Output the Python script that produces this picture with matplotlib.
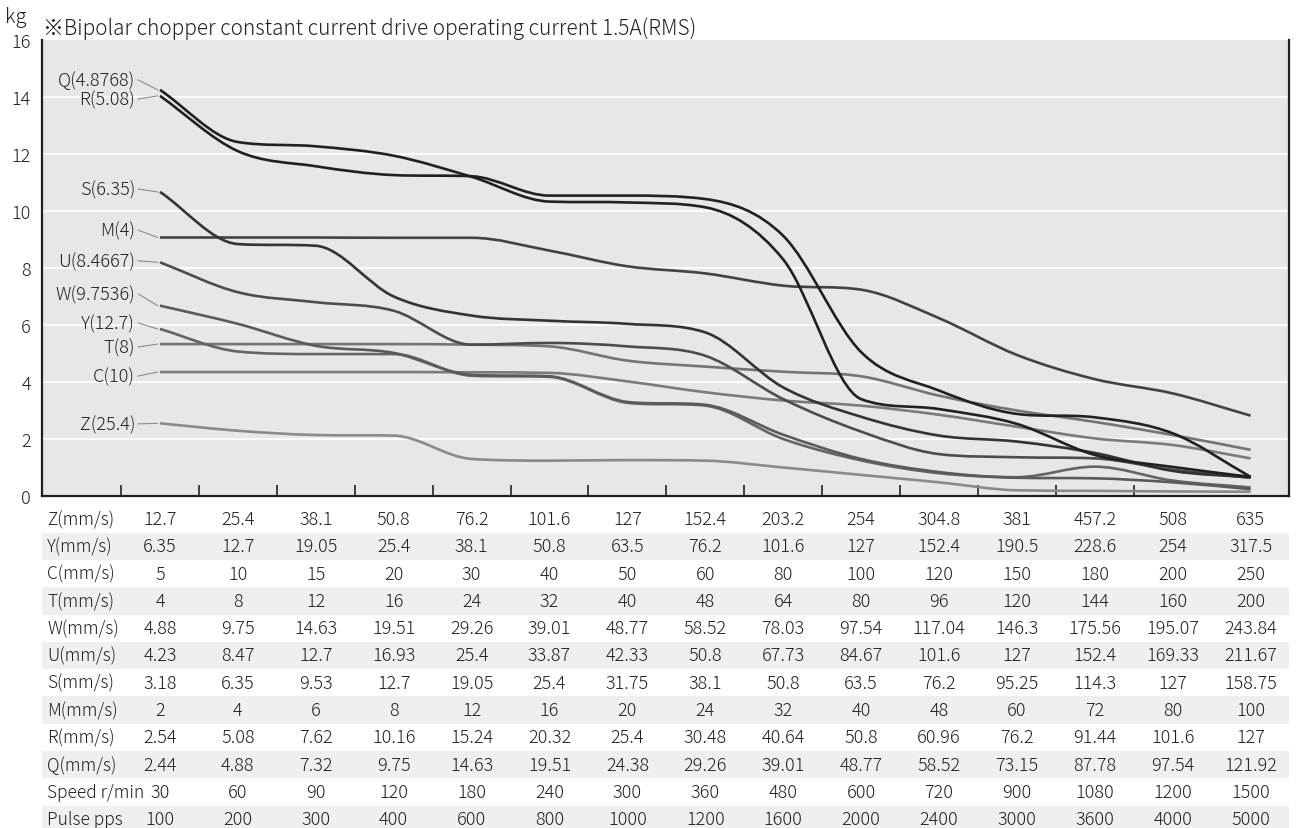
#!/usr/bin/env python3
"""Load vs speed curves for the lead-screw variants, with the speed table underneath."""
import numpy as np
import matplotlib; matplotlib.use("Agg")
import matplotlib.pyplot as plt
from matplotlib.path import Path
from matplotlib.patches import PathPatch

plt.rcParams["font.family"] = ["Noto Sans CJK JP", "DejaVu Sans"]
plt.rcParams["font.weight"] = "light"

# ---- table rows (speed per lead) ----
row_names = ["Z(mm/s)", "Y(mm/s)", "C(mm/s)", "T(mm/s)", "W(mm/s)", "U(mm/s)", "S(mm/s)",
             "M(mm/s)", "R(mm/s)", "Q(mm/s)", "Speed r/min", "Pulse pps"]
speed_Z = ["12.7", "25.4", "38.1", "50.8", "76.2", "101.6", "127", "152.4", "203.2", "254", "304.8", "381", "457.2", "508", "635"]
speed_Y = ["6.35", "12.7", "19.05", "25.4", "38.1", "50.8", "63.5", "76.2", "101.6", "127", "152.4", "190.5", "228.6", "254", "317.5"]
speed_C = ["5", "10", "15", "20", "30", "40", "50", "60", "80", "100", "120", "150", "180", "200", "250"]
speed_T = ["4", "8", "12", "16", "24", "32", "40", "48", "64", "80", "96", "120", "144", "160", "200"]
speed_W = ["4.88", "9.75", "14.63", "19.51", "29.26", "39.01", "48.77", "58.52", "78.03", "97.54", "117.04", "146.3", "175.56", "195.07", "243.84"]
speed_U = ["4.23", "8.47", "12.7", "16.93", "25.4", "33.87", "42.33", "50.8", "67.73", "84.67", "101.6", "127", "152.4", "169.33", "211.67"]
speed_S = ["3.18", "6.35", "9.53", "12.7", "19.05", "25.4", "31.75", "38.1", "50.8", "63.5", "76.2", "95.25", "114.3", "127", "158.75"]
speed_M = ["2", "4", "6", "8", "12", "16", "20", "24", "32", "40", "48", "60", "72", "80", "100"]
speed_R = ["2.54", "5.08", "7.62", "10.16", "15.24", "20.32", "25.4", "30.48", "40.64", "50.8", "60.96", "76.2", "91.44", "101.6", "127"]
speed_Q = ["2.44", "4.88", "7.32", "9.75", "14.63", "19.51", "24.38", "29.26", "39.01", "48.77", "58.52", "73.15", "87.78", "97.54", "121.92"]
speed_rpm = ["30", "60", "90", "120", "180", "240", "300", "360", "480", "600", "720", "900", "1080", "1200", "1500"]
pulse_pps = ["100", "200", "300", "400", "600", "800", "1000", "1200", "1600", "2000", "2400", "3000", "3600", "4000", "5000"]

# ---- load (kg) at each column ----
load_Q = [14.25, 12.42, 12.27, 11.94, 11.20, 10.33, 10.30, 10.13, 8.30, 3.40, 3.05, 2.53, 1.44, 1.02, 0.67]
load_R = [14.04, 12.10, 11.57, 11.26, 11.22, 10.54, 10.54, 10.42, 9.13, 5.05, 3.70, 2.88, 2.76, 2.20, 0.67]
load_S = [10.67, 8.84, 8.78, 7.00, 6.33, 6.15, 6.04, 5.74, 3.81, 2.78, 2.12, 1.91, 1.51, 0.88, 0.65]
load_M = [9.07, 9.07, 9.07, 9.06, 9.06, 8.61, 8.06, 7.81, 7.38, 7.24, 6.24, 4.95, 4.10, 3.60, 2.82]
load_U = [8.20, 7.15, 6.80, 6.50, 5.31, 5.37, 5.25, 4.92, 3.40, 2.26, 1.47, 1.36, 1.32, 0.92, 0.64]
load_W = [6.68, 6.04, 5.27, 5.02, 4.25, 4.20, 3.30, 3.20, 2.15, 1.30, 0.84, 0.64, 0.62, 0.48, 0.24]
load_Y = [5.86, 5.07, 4.98, 4.98, 4.22, 4.18, 3.27, 3.17, 2.00, 1.25, 0.80, 0.66, 1.03, 0.54, 0.30]
load_T = [5.33, 5.33, 5.33, 5.33, 5.31, 5.25, 4.75, 4.54, 4.36, 4.20, 3.52, 3.00, 2.60, 2.14, 1.62]
load_C = [4.35, 4.35, 4.35, 4.35, 4.34, 4.32, 4.02, 3.64, 3.35, 3.17, 2.85, 2.43, 2.02, 1.79, 1.32]
load_Z = [2.55, 2.29, 2.14, 2.12, 1.30, 1.24, 1.26, 1.24, 1.00, 0.74, 0.48, 0.20, 0.18, 0.16, 0.15]

series_labels = ["Z(25.4)", "C(10)", "T(8)", "Y(12.7)", "W(9.7536)", "U(8.4667)", "M(4)", "S(6.35)", "R(5.08)", "Q(4.8768)"]
series_loads = [load_Z, load_C, load_T, load_Y, load_W, load_U, load_M, load_S, load_R, load_Q]
label_y = [2.53, 4.21, 5.23, 6.07, 7.09, 8.25, 9.33, 10.77, 13.93, 14.6]
colors = ["#8a8a8a", "#7a7a7a", "#747474", "#646464", "#5a5a5a", "#4c4c4c", "#424242", "#333333", "#231f20", "#231f20"]

W, H = 1302, 829
x_of = lambda px: (px - 160) / 77.9   # pixel -> column units


def smooth_path(xs, ys):
    xs = np.asarray(xs, float); ys = np.asarray(ys, float)
    h = np.diff(xs); d = np.diff(ys) / h
    m = np.zeros_like(ys)
    m[0], m[-1] = d[0], d[-1]
    for k in range(1, len(ys) - 1):
        if d[k - 1] * d[k] <= 0:
            m[k] = 0
        else:
            m[k] = np.sign(d[k]) * min(abs(d[k - 1] + d[k]) / 2, 3 * min(abs(d[k - 1]), abs(d[k])))
    verts = [(xs[0], ys[0])]; codes = [Path.MOVETO]
    for k in range(len(ys) - 1):
        verts += [(xs[k] + h[k] / 3, ys[k] + m[k] * h[k] / 3),
                  (xs[k + 1] - h[k] / 3, ys[k + 1] - m[k + 1] * h[k] / 3),
                  (xs[k + 1], ys[k + 1])]
        codes += [Path.CURVE4] * 3
    return Path(verts, codes)


fig = plt.figure(figsize=(W / 100, H / 100), dpi=100)
ax = fig.add_axes([42 / W, 1 - 497 / H, (1289 - 42) / W, (497 - 41) / H])
ax.set_facecolor("#e6e7e8")
ax.set_xlim(x_of(42), x_of(1289)); ax.set_ylim(0, 16)
for gy in range(2, 16, 2):
    ax.axhline(gy, color="white", lw=1.3, zorder=1)

cols = np.arange(len(pulse_pps))
for lab, vals, ly, c in zip(series_labels, series_loads, label_y, colors):
    ax.add_patch(PathPatch(smooth_path(cols, vals), fill=False, edgecolor=c, lw=1.9, zorder=3))
    ax.plot([-0.28, -0.03], [ly, vals[0]], color="#8c8c8c", lw=0.8, zorder=2)
    ax.text(-0.32, ly, lab, ha="right", va="center", fontsize=13, color="#231f20")

for s in ["left", "bottom", "right"]:
    ax.spines[s].set_linewidth(1.6); ax.spines[s].set_color("#231f20")
ax.spines["top"].set_visible(False)
ax.set_xticks(cols[:-1] - 0.5)
ax.tick_params(axis="x", direction="in", length=8, width=1.2, color="#231f20", labelbottom=False)
ax.set_yticks(range(0, 17, 2))
ax.tick_params(axis="y", length=0, pad=8, labelsize=13, labelcolor="#231f20")

fig.text(5 / W, 1 - 23 / H, "kg", fontsize=14.5, color="#231f20", va="baseline")
fig.text(43 / W, 1 - 35 / H, "※Bipolar chopper constant current drive operating current 1.5A(RMS)",
         fontsize=15, color="#231f20", va="baseline")

# ---- speed table ----
tb = fig.add_axes([42 / W, 0, (1289 - 42) / W, (H - 506) / H])
tb.set_xlim(x_of(42), x_of(1289)); tb.set_ylim(H, 506); tb.axis("off")
rows = [speed_Z, speed_Y, speed_C, speed_T, speed_W, speed_U, speed_S, speed_M, speed_R, speed_Q, speed_rpm, pulse_pps]
for i, (name, vals) in enumerate(zip(row_names, rows)):
    yc = 520 + 27.3 * i
    if i % 2 == 1:
        tb.axhspan(yc - 13.65, yc + 13.65, color="#efefef", lw=0)
    tb.text(x_of(47), yc, name, ha="left", va="center", fontsize=12.5, color="#231f20")
    for j, v in enumerate(vals):
        tb.text(j, yc, v, ha="center", va="center", fontsize=13, color="#231f20")

fig.savefig("out.png", dpi=100)
print("wrote out.png")
